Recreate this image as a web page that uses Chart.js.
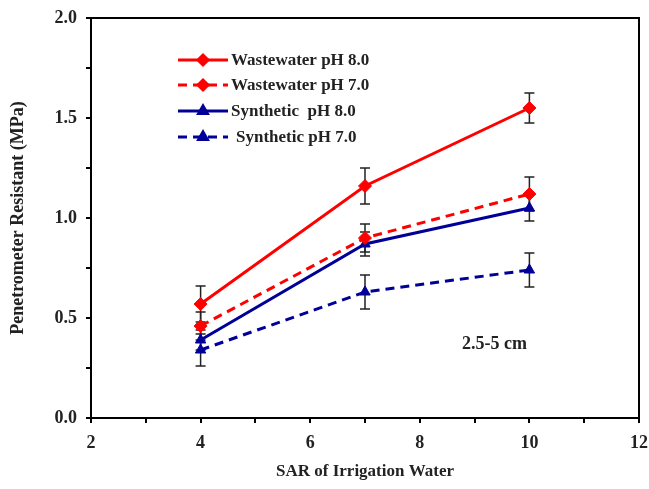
<!DOCTYPE html>
<html>
<head>
<meta charset="utf-8">
<script src="https://cdn.jsdelivr.net/npm/chart.js@4/dist/chart.umd.min.js"></script>
<style>
  html, body { margin: 0; padding: 0; background: #fff; }
  #wrap { width: 649px; height: 489px; position: relative; }
</style>
</head>
<body>
<div id="wrap"><canvas id="grafica"></canvas></div>
<script>
const sar = [4, 7, 10];
const wwPh8 = [0.57, 1.16, 1.55];
const wwPh7 = [0.46, 0.90, 1.12];
const synPh8 = [0.39, 0.87, 1.05];
const synPh7 = [0.34, 0.63, 0.74];
const wwPh8Err = [0.09, 0.09, 0.075];
const wwPh7Err = [0.07, 0.07, 0.085];
const synPh8Err = [0.05, 0.06, 0.065];
const synPh7Err = [0.08, 0.085, 0.085];
const etiquetas = ['Wastewater pH 8.0', 'Wastewater pH 7.0', 'Synthetic  pH 8.0', 'Synthetic pH 7.0'];

const fuente = '"Liberation Serif", "Times New Roman", serif';
const rojo = '#ff0000';
const azul = '#000099';

function serie(label, valores, errores, color, dash, estilo, radio) {
  return {
    label: label,
    data: sar.map((x, i) => ({ x: x, y: valores[i] })),
    errores: errores,
    borderColor: color,
    backgroundColor: color,
    borderWidth: 3,
    borderDash: dash,
    pointStyle: estilo,
    pointRadius: radio,
    pointBorderWidth: 1,
    tension: 0,
    fill: false
  };
}

const datasets = [
  serie(etiquetas[0], wwPh8, wwPh8Err, rojo, [], 'rectRot', 6.5),
  serie(etiquetas[1], wwPh7, wwPh7Err, rojo, [9, 6], 'rectRot', 6.5),
  serie(etiquetas[2], synPh8, synPh8Err, azul, [], 'triangle', 6),
  serie(etiquetas[3], synPh7, synPh7Err, azul, [9, 6], 'triangle', 6)
];

// barras de error, dibujadas detras de los marcadores
const barrasError = {
  id: 'barrasError',
  beforeDatasetsDraw(chart) {
    const ctx = chart.ctx;
    const xs = chart.scales.x, ys = chart.scales.y;
    ctx.save();
    ctx.strokeStyle = '#222';
    ctx.lineWidth = 1.5;
    chart.data.datasets.forEach(ds => {
      ds.data.forEach((p, i) => {
        const px = xs.getPixelForValue(p.x);
        const arriba = ys.getPixelForValue(p.y + ds.errores[i]);
        const abajo = ys.getPixelForValue(p.y - ds.errores[i]);
        ctx.beginPath();
        ctx.moveTo(px, arriba); ctx.lineTo(px, abajo);
        ctx.moveTo(px - 5, arriba); ctx.lineTo(px + 5, arriba);
        ctx.moveTo(px - 5, abajo); ctx.lineTo(px + 5, abajo);
        ctx.stroke();
      });
    });
    ctx.restore();
  }
};

// marco, leyenda y nota de profundidad
const decorado = {
  id: 'decorado',
  afterDraw(chart) {
    const ctx = chart.ctx;
    const a = chart.chartArea;
    ctx.save();
    ctx.strokeStyle = '#000';
    ctx.lineWidth = 2;
    ctx.strokeRect(a.left, a.top, a.right - a.left, a.bottom - a.top);

    ctx.font = 'bold 17px ' + fuente;
    ctx.textBaseline = 'middle';
    const filas = [60, 85, 111, 137];
    chart.data.datasets.forEach((ds, i) => {
      const y = filas[i];
      ctx.strokeStyle = ds.borderColor;
      ctx.lineWidth = 3;
      ctx.setLineDash(ds.borderDash);
      ctx.beginPath();
      ctx.moveTo(178, y); ctx.lineTo(228, y);
      ctx.stroke();
      ctx.setLineDash([]);
      ctx.fillStyle = ds.backgroundColor;
      Chart.helpers.drawPoint(ctx, {
        pointStyle: ds.pointStyle,
        radius: 5,
        rotation: 0,
        borderWidth: 1
      }, 203, y);
      ctx.fillStyle = '#222';
      ctx.fillText(ds.label, i === 3 ? 236 : 231, y + 1);
    });

    ctx.font = 'bold 18px ' + fuente;
    ctx.fillText('2.5-5 cm', 462, 344);
    ctx.restore();
  }
};

const ctx = document.getElementById('grafica').getContext('2d');
const grafica = new Chart(ctx, {
  type: 'line',
  data: { datasets: datasets },
  options: {
    responsive: true,
    maintainAspectRatio: false,
    animation: false,
    layout: { padding: { top: 18, right: 10, left: 8, bottom: 6 } },
    plugins: {
      legend: { display: false },
      tooltip: { enabled: false }
    },
    scales: {
      x: {
        type: 'linear',
        min: 2,
        max: 12,
        ticks: {
          stepSize: 1,
          autoSkip: false,
          maxRotation: 0,
          color: '#222',
          font: { family: fuente, size: 18, weight: 'bold', lineHeight: 2.1 },
          padding: 1,
          callback: v => (v % 2 === 0 ? String(v) : '')
        },
        grid: { drawOnChartArea: false, drawTicks: true, tickLength: 5, color: '#000', lineWidth: 2 },
        border: { display: true, color: '#000', width: 2 },
        title: {
          display: true,
          text: 'SAR of Irrigation Water',
          color: '#222',
          font: { family: fuente, size: 17, weight: 'bold' },
          padding: { top: 8, bottom: 1 }
        },
        afterFit: s => { s.height = 65; }
      },
      y: {
        min: 0,
        max: 2,
        ticks: {
          stepSize: 0.25,
          autoSkip: false,
          color: '#222',
          font: { family: fuente, size: 18, weight: 'bold', lineHeight: 1 },
          padding: 9,
          callback: v => (Math.abs(v * 2 - Math.round(v * 2)) < 1e-6 ? v.toFixed(1) : '')
        },
        grid: { drawOnChartArea: false, drawTicks: true, tickLength: 5, color: '#000', lineWidth: 2 },
        border: { display: true, color: '#000', width: 2 },
        title: {
          display: true,
          text: 'Penetrometer Resistant (MPa)',
          color: '#222',
          font: { family: fuente, size: 18, weight: 'bold' },
          padding: { top: 0, bottom: 10 }
        },
        afterFit: s => { s.width = 83; }
      }
    }
  },
  plugins: [barrasError, decorado]
});
</script>
</body>
</html>
